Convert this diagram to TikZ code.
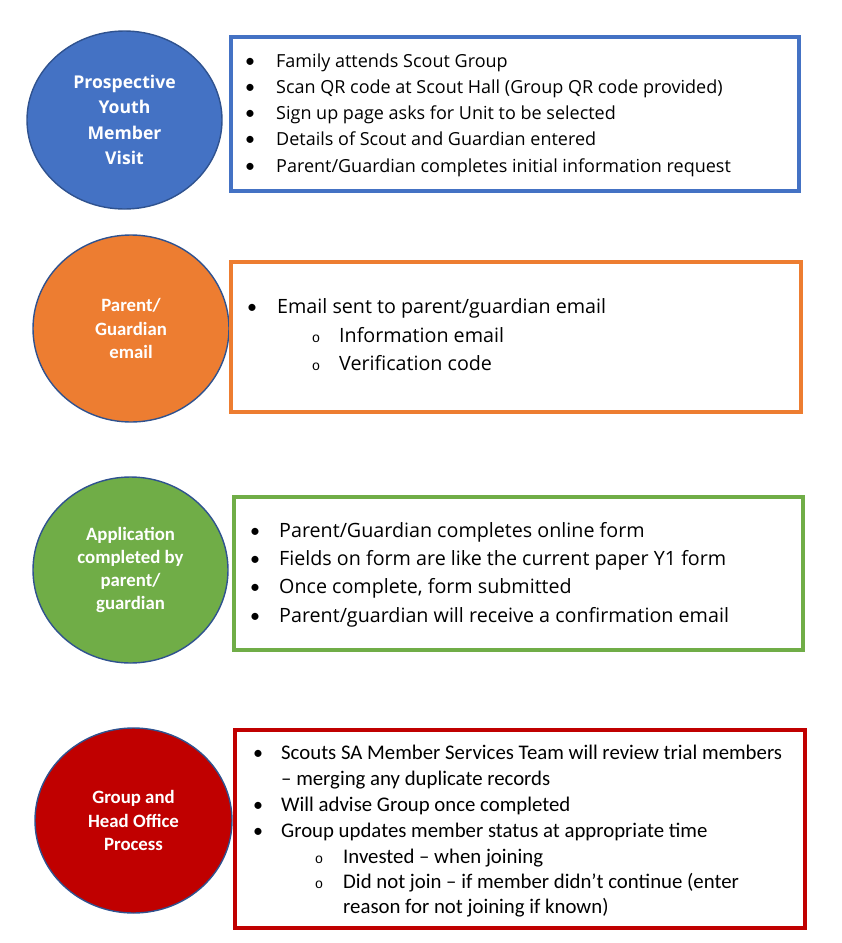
\documentclass[tikz,border=0pt]{standalone}
\usepackage{fontspec}
\setmainfont{Open Sans}
\newfontfamily\calibrifont{Carlito}
\newfontfamily\ringfont{Liberation Mono}
\usetikzlibrary{shapes.geometric}

\definecolor{stageblue}{HTML}{4472C4}
\definecolor{stageorange}{HTML}{ED7D31}
\definecolor{stagegreen}{HTML}{70AD47}
\definecolor{stagered}{HTML}{C00000}
\definecolor{stageedge}{HTML}{2F528F}

\tikzset{
  stage/.style={ellipse,draw=stageedge,line width=1.4pt,text=white,align=center,inner sep=0pt},
  stepbox/.style={draw,line width=4pt,inner sep=0pt},
  bul/.style={anchor=base,inner sep=0pt,font=\calibrifont\fontsize{20}{24}\selectfont},
  ring/.style={anchor=base,inner sep=0pt,font=\ringfont\fontsize{14}{16}\selectfont},
  item/.style={anchor=base west,inner sep=0pt}
}

\begin{document}
\begin{tikzpicture}[x=1pt,y=-1pt]
\useasboundingbox (0,0) rectangle (842,943);

% stage circles
\node [stage,fill=stageblue,minimum width=195pt,minimum height=178pt,font=\fontsize{17.6}{25.5}\selectfont\bfseries] (visit) at (124.5,120) {Prospective\\Youth\\Member\\Visit};
\node [stage,fill=stageorange,minimum width=196pt,minimum height=187pt,font=\calibrifont\fontsize{18.8}{23.5}\selectfont\bfseries] (email) at (131,328.5) {Parent/\\Guardian\\email};
\node [stage,fill=stagegreen,minimum width=195pt,minimum height=186pt,font=\calibrifont\fontsize{18.8}{23.3}\selectfont\bfseries] (apply) at (130.5,570) {Application\\completed by\\parent/\\guardian};
\node [stage,fill=stagered,minimum width=197pt,minimum height=185pt,font=\calibrifont\fontsize{18.8}{23.3}\selectfont\bfseries] (office) at (133.5,820.5) {Group and\\Head Office\\Process};

% boxes
\draw [stepbox,draw=stageblue] (231,37) rectangle (799,191);
\draw [stepbox,draw=stageorange] (231,262) rectangle (801,412);
\draw [stepbox,draw=stagegreen] (234,497) rectangle (803,650);
\draw [stepbox,draw=stagered] (235,730) rectangle (805,928);

% visit box
\begin{scope}[font=\fontsize{18}{21}\selectfont]
\foreach \txt [count=\i] in {Family attends Scout Group,Scan QR code at Scout Hall (Group QR code provided),Sign up page asks for Unit to be selected,Details of Scout and Guardian entered,Parent/Guardian completes initial information request}{
  \node [bul] (visitdot\i) at (250,{67+26.3*(\i-1)}) {•};
  \node [item] (visititem\i) at (276,{67+26.3*(\i-1)}) {\txt};
}
\end{scope}

% email box
\begin{scope}[font=\fontsize{19.7}{23}\selectfont]
\node [bul] (emaildot1) at (252,313) {•};
\node [item] (emailitem1) at (277,313) {Email sent to parent/guardian email};
\node [ring] (emailring1) at (316,342) {o};
\node [item] (emailitem2) at (339,342) {Information email};
\node [ring] (emailring2) at (316,370) {o};
\node [item] (emailitem3) at (339,370) {Verification code};
\end{scope}

% application box
\begin{scope}[font=\fontsize{19.7}{23}\selectfont]
\foreach \txt [count=\i] in {Parent/Guardian completes online form,Fields on form are like the current paper Y1 form,{Once complete, form submitted},Parent/guardian will receive a confirmation email}{
  \node [bul] (applydot\i) at (255,{537+28.4*(\i-1)}) {•};
  \node [item] (applyitem\i) at (279,{537+28.4*(\i-1)}) {\txt};
}
\end{scope}

% office box
\begin{scope}[font=\calibrifont\fontsize{20.8}{25}\selectfont]
\node [bul] (officedot1) at (258,759) {•};
\node [item] (officeitem1) at (281,759) {Scouts SA Member Services Team will review trial members};
\node [item] (officeitem2) at (281,785) {– merging any duplicate records};
\node [bul] (officedot2) at (258,811) {•};
\node [item] (officeitem3) at (281,811) {Will advise Group once completed};
\node [bul] (officedot3) at (258,837) {•};
\node [item] (officeitem4) at (281,837) {Group updates member status at appropriate time};
\node [ring] (officering1) at (319,863) {o};
\node [item] (officeitem5) at (343,863) {Invested – when joining};
\node [ring] (officering2) at (319,888) {o};
\node [item] (officeitem6) at (343,888) {Did not join – if member didn’t continue (enter};
\node [item] (officeitem7) at (343,913) {reason for not joining if known)};
\end{scope}
\end{tikzpicture}
\end{document}
